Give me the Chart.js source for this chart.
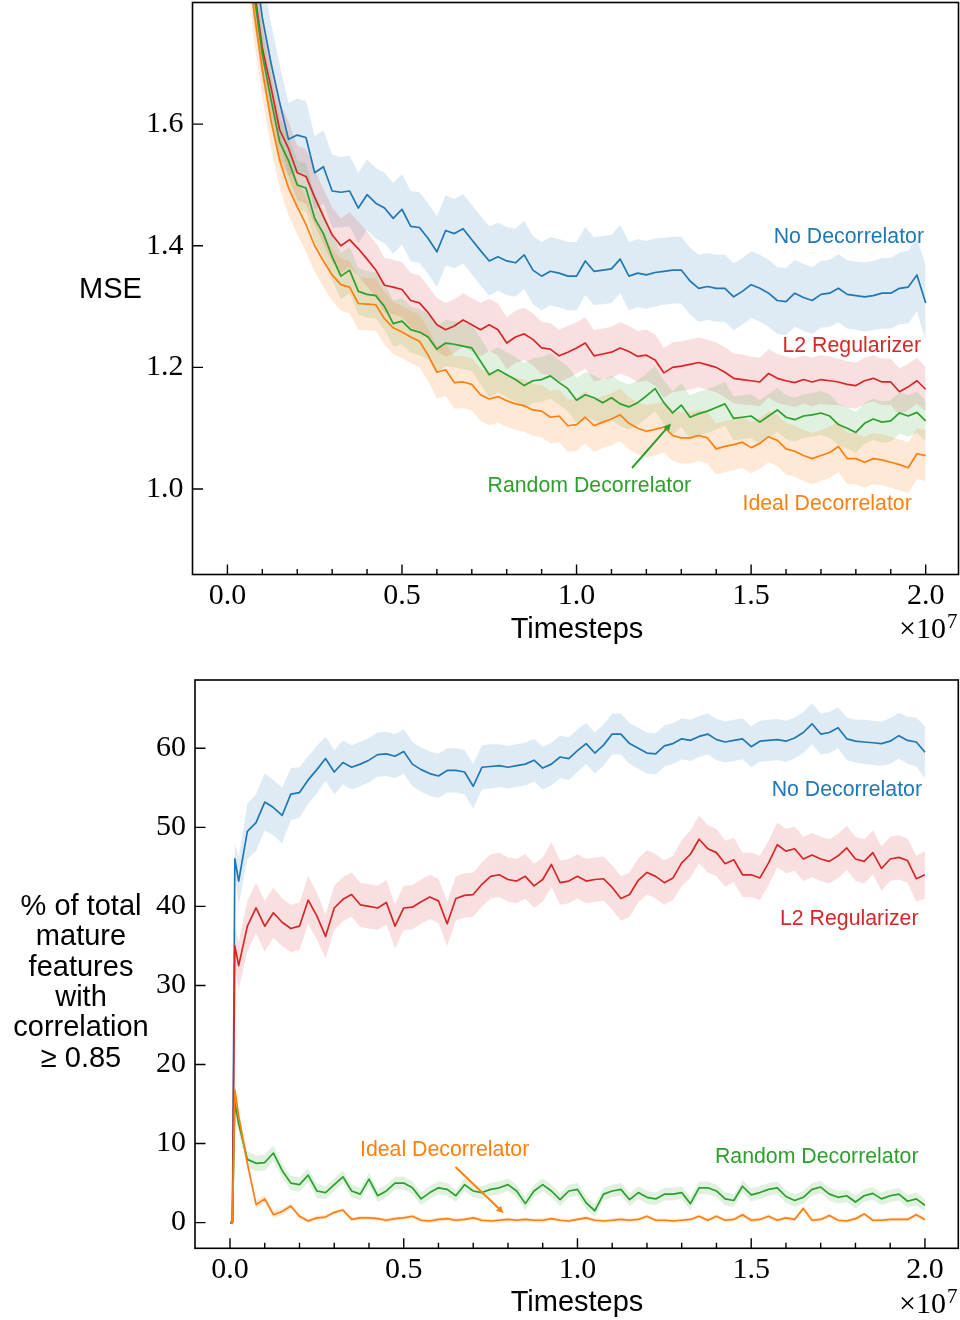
<!DOCTYPE html>
<html><head><meta charset="utf-8">
<script src="https://cdn.jsdelivr.net/npm/chart.js@4.4.1/dist/chart.umd.min.js"></script>
<style>
html,body{margin:0;padding:0;background:#fff;}
#wrap{position:relative;width:960px;height:1320px;overflow:hidden;}
canvas{position:absolute;left:0;}
#c1{top:0;width:960px;height:650px;}
#c2{top:650px;width:960px;height:670px;}
</style></head><body>
<div id="wrap"><canvas id="c1" width="960" height="650"></canvas><canvas id="c2" width="960" height="670"></canvas></div>
<script>
// ---------- DATA (timesteps in units of 1e7) ----------
const topX = [0,0.025,0.05,0.075,0.1,0.125,0.15,0.175,0.2,0.225,
0.25,0.275,0.3,0.325,0.35,0.375,0.4,0.425,0.45,0.475,
0.5,0.525,0.55,0.575,0.6,0.625,0.65,0.675,0.7,0.725,
0.75,0.775,0.8,0.825,0.85,0.875,0.9,0.925,0.95,0.975,
1.0,1.025,1.05,1.075,1.1,1.125,1.15,1.175,1.2,1.225,
1.25,1.275,1.3,1.325,1.35,1.375,1.4,1.425,1.45,1.475,
1.5,1.525,1.55,1.575,1.6,1.625,1.65,1.675,1.7,1.725,
1.75,1.775,1.8,1.825,1.85,1.875,1.9,1.925,1.95,1.975,2.0];

const mseNoDecorrelator = [2.70,2.35,2.08,1.88,1.775,1.70,1.635,1.575,1.582,1.578,
1.52,1.53,1.49,1.488,1.49,1.462,1.484,1.47,1.462,1.445,
1.46,1.432,1.43,1.412,1.39,1.425,1.42,1.428,1.41,1.392,
1.375,1.382,1.375,1.372,1.385,1.36,1.35,1.358,1.355,1.35,
1.35,1.375,1.358,1.36,1.362,1.378,1.35,1.355,1.352,1.356,
1.358,1.36,1.36,1.342,1.33,1.333,1.33,1.33,1.316,1.325,
1.336,1.33,1.322,1.31,1.308,1.322,1.315,1.31,1.32,1.322,
1.33,1.32,1.318,1.316,1.318,1.322,1.322,1.33,1.332,1.352,1.306];
const mseL2Regularizer = [2.55,2.25,2.00,1.83,1.725,1.66,1.59,1.56,1.52,1.514,
1.48,1.448,1.418,1.40,1.41,1.395,1.378,1.36,1.335,1.332,
1.328,1.31,1.306,1.29,1.27,1.262,1.268,1.278,1.27,1.262,
1.27,1.262,1.24,1.25,1.255,1.246,1.232,1.23,1.219,1.225,
1.232,1.24,1.219,1.222,1.225,1.232,1.226,1.218,1.22,1.212,
1.191,1.2,1.202,1.205,1.208,1.204,1.2,1.192,1.182,1.18,
1.178,1.176,1.19,1.182,1.178,1.175,1.18,1.176,1.18,1.178,
1.176,1.172,1.17,1.178,1.182,1.176,1.176,1.16,1.168,1.178,1.164];
const mseRandomDecorrelator = [2.50,2.20,1.97,1.82,1.715,1.64,1.57,1.54,1.50,1.495,
1.445,1.42,1.382,1.35,1.36,1.325,1.32,1.318,1.30,1.272,
1.276,1.262,1.258,1.25,1.23,1.24,1.238,1.235,1.232,1.21,
1.188,1.196,1.188,1.18,1.17,1.178,1.18,1.186,1.175,1.165,
1.146,1.155,1.15,1.142,1.15,1.14,1.135,1.142,1.153,1.165,
1.142,1.125,1.138,1.118,1.124,1.128,1.134,1.14,1.116,1.118,
1.12,1.11,1.12,1.13,1.118,1.114,1.12,1.122,1.125,1.12,
1.106,1.1,1.093,1.108,1.115,1.11,1.112,1.125,1.12,1.126,1.112];
const mseIdealDecorrelator = [2.45,2.15,1.94,1.79,1.69,1.605,1.54,1.495,1.464,1.435,
1.40,1.375,1.352,1.336,1.332,1.305,1.304,1.303,1.28,1.265,
1.258,1.25,1.243,1.22,1.192,1.196,1.175,1.176,1.172,1.155,
1.148,1.152,1.145,1.14,1.137,1.13,1.128,1.118,1.12,1.104,
1.106,1.118,1.104,1.11,1.115,1.122,1.108,1.1,1.095,1.098,
1.102,1.088,1.084,1.084,1.088,1.084,1.066,1.07,1.073,1.077,
1.068,1.075,1.086,1.08,1.066,1.062,1.055,1.05,1.055,1.06,
1.07,1.05,1.05,1.044,1.05,1.048,1.044,1.04,1.035,1.058,1.055];

// half-width of shaded bands (top panel)
const mseBandNoDecorrelator = [0.08,0.08,0.08,0.075,0.07,0.066,0.062,0.06,0.06,0.06,
0.06,0.06,0.06,0.058,0.058,0.058,0.058,0.058,0.058,0.058,
0.058,0.058,0.058,0.058,0.058,0.058,0.057,0.057,0.057,0.057,
0.057,0.056,0.056,0.056,0.056,0.056,0.056,0.056,0.056,0.056,
0.056,0.056,0.056,0.056,0.056,0.056,0.056,0.056,0.056,0.056,
0.055,0.055,0.055,0.055,0.055,0.055,0.055,0.055,0.055,0.055,
0.055,0.055,0.055,0.055,0.055,0.055,0.055,0.055,0.055,0.055,
0.056,0.056,0.056,0.057,0.057,0.058,0.058,0.059,0.06,0.06,0.062];
const mseBandL2Regularizer = [0.07,0.065,0.06,0.055,0.05,0.048,0.046,0.045,0.045,0.045,
0.045,0.045,0.045,0.045,0.045,0.045,0.045,0.045,0.045,0.045,
0.045,0.045,0.045,0.044,0.044,0.044,0.044,0.044,0.044,0.044,
0.043,0.043,0.043,0.043,0.043,0.043,0.043,0.043,0.043,0.043,
0.042,0.042,0.042,0.042,0.042,0.042,0.042,0.042,0.042,0.042,
0.041,0.041,0.041,0.041,0.041,0.041,0.041,0.041,0.041,0.041,
0.04,0.04,0.04,0.04,0.04,0.04,0.04,0.04,0.04,0.04,
0.038,0.038,0.038,0.038,0.038,0.038,0.038,0.038,0.038,0.038,0.036];
const mseBandRandomDecorrelator = [0.06,0.055,0.05,0.045,0.042,0.04,0.04,0.04,0.04,0.04,
0.038,0.038,0.038,0.038,0.038,0.038,0.038,0.038,0.038,0.038,
0.038,0.038,0.038,0.038,0.038,0.038,0.038,0.038,0.038,0.038,
0.037,0.037,0.037,0.037,0.037,0.037,0.037,0.037,0.037,0.037,
0.037,0.037,0.037,0.037,0.037,0.037,0.037,0.037,0.037,0.037,
0.036,0.036,0.036,0.036,0.036,0.036,0.036,0.036,0.036,0.036,
0.036,0.036,0.036,0.036,0.036,0.036,0.036,0.036,0.036,0.036,
0.034,0.034,0.034,0.034,0.034,0.034,0.034,0.034,0.034,0.034,0.033];
const mseBandIdealDecorrelator = [0.06,0.055,0.05,0.048,0.046,0.045,0.045,0.045,0.045,0.045,
0.043,0.043,0.043,0.043,0.043,0.043,0.043,0.043,0.043,0.043,
0.043,0.043,0.043,0.043,0.043,0.043,0.043,0.043,0.043,0.043,
0.043,0.043,0.043,0.043,0.043,0.043,0.043,0.043,0.043,0.043,
0.043,0.043,0.043,0.043,0.043,0.043,0.043,0.043,0.043,0.043,
0.042,0.042,0.042,0.042,0.042,0.042,0.042,0.042,0.042,0.042,
0.042,0.042,0.042,0.042,0.042,0.042,0.042,0.042,0.042,0.042,
0.042,0.042,0.042,0.042,0.042,0.042,0.042,0.042,0.042,0.042,0.042];

const bottomX = [0,0.007,0.014,
0.025,0.05,0.075,0.1,0.125,0.15,0.175,0.2,0.225,0.25,
0.275,0.3,0.325,0.35,0.375,0.4,0.425,0.45,0.475,0.5,
0.525,0.55,0.575,0.6,0.625,0.65,0.675,0.7,0.725,0.75,
0.775,0.8,0.825,0.85,0.875,0.9,0.925,0.95,0.975,1.0,
1.025,1.05,1.075,1.1,1.125,1.15,1.175,1.2,1.225,1.25,
1.275,1.3,1.325,1.35,1.375,1.4,1.425,1.45,1.475,1.5,
1.525,1.55,1.575,1.6,1.625,1.65,1.675,1.7,1.725,1.75,
1.775,1.8,1.825,1.85,1.875,1.9,1.925,1.95,1.975,2.0];

const pctNoDecorrelator = [0,0,46.0,
43.2,49.5,50.6,53.2,52.5,51.5,54.2,54.4,56.0,57.3,
58.7,57.0,58.2,57.6,58.0,58.5,59.2,59.3,59.0,59.6,
58.0,57.3,56.8,56.5,57.2,57.2,57.0,55.2,57.6,57.7,
57.8,57.6,57.8,58.0,58.5,57.5,58.0,58.9,58.7,59.7,
60.6,59.4,60.4,61.8,61.8,60.6,60.0,59.4,59.3,60.3,
60.6,61.2,61.0,61.5,61.8,61.1,60.8,61.0,61.2,60.2,
60.9,61.0,61.1,60.9,61.3,62.0,63.1,61.8,62.0,62.6,
61.2,60.9,60.8,60.7,60.6,60.9,61.6,61.0,60.8,59.5];
const pctL2Regularizer = [0,0,35.0,
32.5,37.5,39.8,37.5,39.2,38.0,37.2,37.5,40.8,38.8,
36.2,39.8,40.9,41.5,40.2,40.0,39.8,40.5,37.5,39.8,
39.9,40.6,41.2,40.7,37.8,41.0,41.4,41.5,42.8,43.8,
44.0,43.4,43.2,43.8,42.6,43.4,45.3,43.0,43.2,43.8,
43.2,43.4,43.5,42.4,41.0,41.5,43.3,44.3,43.8,43.0,
43.6,45.5,46.6,48.5,47.3,46.8,45.4,45.9,44.0,44.0,
43.6,45.5,47.8,47.0,47.3,46.0,46.5,46.0,45.7,46.4,
47.4,46.0,45.7,46.8,44.8,46.0,46.2,45.8,43.5,44.0];
const pctRandomDecorrelator = [0,0,15.2,
12.5,8.0,7.5,7.6,8.8,6.6,5.0,4.8,6.0,4.0,
3.8,4.8,5.8,4.0,3.6,5.5,3.4,4.0,5.0,5.0,
4.4,3.0,3.8,4.4,4.2,3.4,4.8,4.0,3.8,4.2,
4.4,4.8,4.0,2.4,4.0,4.8,4.0,2.9,4.0,4.2,
2.5,1.5,3.6,4.0,4.2,2.9,3.8,3.2,3.0,3.6,
3.6,3.8,2.4,4.4,4.4,4.0,3.0,2.8,4.6,3.5,
3.8,4.2,4.4,3.3,2.8,3.2,4.2,4.5,3.6,3.2,
3.4,2.6,3.4,3.7,3.0,3.4,3.6,2.7,3.0,2.2];
const pctIdealDecorrelator = [0,0,16.8,
13.5,7.5,2.3,3.0,1.0,1.4,2.1,0.8,0.2,0.6,
0.7,1.3,1.6,0.4,0.6,0.6,0.5,0.3,0.5,0.6,
0.8,0.3,0.2,0.4,0.5,0.3,0.4,0.6,0.3,0.2,
0.3,0.4,0.3,0.4,0.3,0.3,0.5,0.3,0.2,0.4,
0.6,0.3,0.2,0.3,0.4,0.3,0.4,0.8,0.3,0.3,
0.2,0.3,0.4,0.8,0.3,0.8,0.3,0.4,1.0,0.3,
0.4,0.8,0.3,0.6,0.4,1.8,0.3,0.4,0.9,0.3,
0.2,0.5,1.1,0.3,0.3,0.4,0.4,0.4,1.0,0.4];

const pctBandNoDecorrelator = [0,0,2.0,
3.0,3.5,3.6,3.6,3.5,3.5,3.3,3.2,3.0,3.0,
2.8,2.8,2.8,2.8,2.8,2.8,2.8,2.8,2.8,2.8,
2.8,2.8,2.8,2.8,2.8,2.8,2.8,2.8,2.8,2.8,
2.7,2.7,2.7,2.7,2.7,2.7,2.7,2.7,2.7,2.7,
2.6,2.6,2.6,2.6,2.6,2.6,2.6,2.6,2.6,2.6,
2.6,2.6,2.6,2.6,2.6,2.6,2.6,2.6,2.6,2.6,
2.6,2.6,2.6,2.6,2.6,2.6,2.6,2.6,2.6,2.6,
2.7,2.7,2.8,2.8,2.8,2.9,2.9,3.0,3.1,3.3];
const pctBandL2Regularizer = [0,0,2.5,
3.0,3.2,3.2,3.2,3.2,3.0,3.0,3.0,3.0,3.0,
2.8,2.8,2.8,2.8,2.8,2.8,2.8,2.8,2.8,2.8,
2.8,2.8,2.8,2.8,2.8,2.8,2.8,2.8,2.8,2.8,
2.8,2.8,2.8,2.8,2.8,2.8,2.8,2.8,2.8,2.8,
2.8,2.8,2.8,2.8,2.8,2.8,2.8,2.8,2.8,2.8,
2.8,2.9,3.0,3.0,3.0,3.0,2.9,2.8,2.8,2.8,
2.8,2.8,2.8,2.8,2.8,2.8,2.8,2.8,2.8,2.8,
2.8,2.8,2.8,2.8,2.8,2.8,2.8,2.8,2.9,3.0];
const pctBandRandomDecorrelator = [0,0,1.0,
1.2,1.0,1.0,1.0,1.0,0.9,0.9,0.9,0.9,0.9,
0.8,0.8,0.8,0.8,0.8,0.8,0.8,0.8,0.8,0.8,
0.8,0.8,0.8,0.8,0.8,0.8,0.8,0.8,0.8,0.8,
0.8,0.8,0.8,0.8,0.8,0.8,0.8,0.8,0.8,0.8,
0.8,0.8,0.8,0.8,0.8,0.8,0.8,0.8,0.8,0.8,
0.8,0.8,0.8,0.8,0.8,0.8,0.8,0.8,0.8,0.8,
0.8,0.8,0.8,0.8,0.8,0.8,0.8,0.8,0.8,0.8,
0.8,0.8,0.8,0.8,0.8,0.8,0.8,0.8,0.8,0.8];
const pctBandIdealDecorrelator = [0,0,0.8,
0.8,0.7,0.5,0.5,0.4,0.4,0.3,0.3,0.3,0.3,
0.25,0.25,0.25,0.25,0.25,0.25,0.25,0.25,0.25,0.25,
0.25,0.25,0.25,0.25,0.25,0.25,0.25,0.25,0.25,0.25,
0.25,0.25,0.25,0.25,0.25,0.25,0.25,0.25,0.25,0.25,
0.25,0.25,0.25,0.25,0.25,0.25,0.25,0.25,0.25,0.25,
0.25,0.25,0.25,0.25,0.25,0.25,0.25,0.25,0.25,0.25,
0.25,0.25,0.25,0.25,0.25,0.25,0.25,0.25,0.25,0.25,
0.25,0.25,0.25,0.25,0.25,0.25,0.25,0.25,0.25,0.25];

// tick values / labels
const xTickValues = [0,0.1,0.2,0.3,0.4,0.5,0.6,0.7,0.8,0.9,1.0,1.1,1.2,1.3,1.4,1.5,1.6,1.7,1.8,1.9,2.0];
const xMajorLabels = {0:'0.0',0.5:'0.5',1:'1.0',1.5:'1.5',2:'2.0'};
const mseTickValues = [1.0,1.2,1.4,1.6];
const pctTickValues = [0,10,20,30,40,50,60];

const seriesNames = ['No Decorrelator','L2 Regularizer','Random Decorrelator','Ideal Decorrelator'];
const seriesColors = {'No Decorrelator':'#1f77b4','L2 Regularizer':'#d62728','Random Decorrelator':'#2ca02c','Ideal Decorrelator':'#ff7f0e'};
const topYLabel = 'MSE';
const bottomYLabel = ['% of total','mature','features','with','correlation','\u2265 0.85'];
const xLabel = 'Timesteps';

// ---------- helpers ----------
function rgba(hex, a){
  const n = parseInt(hex.slice(1),16);
  return `rgba(${(n>>16)&255},${(n>>8)&255},${n&255},${a})`;
}
function pts(xs, ys){ return xs.map((x,i)=>({x:x, y:ys[i]})); }
function bandPts(xs, ys, hw, s){ return xs.map((x,i)=>({x:x, y:ys[i] + s*hw[i]})); }

function buildDatasets(xs, series){
  const ds = [];
  series.forEach(s => ds.push({
    data: pts(xs, s.y), borderColor: s.color, borderWidth: 1.7, pointRadius: 0,
    fill: false, tension: 0, order: 0, clip: 0, borderJoinStyle: 'round'
  }));
  series.forEach(s => {
    ds.push({data: bandPts(xs, s.y, s.hw, 1), borderWidth: 0, borderColor: 'rgba(0,0,0,0)', pointRadius: 0,
      fill: '+1', backgroundColor: rgba(s.color, s.alpha), order: 1, clip: 0});
    ds.push({data: bandPts(xs, s.y, s.hw, -1), borderWidth: 0, borderColor: 'rgba(0,0,0,0)', pointRadius: 0,
      fill: false, order: 1, clip: 0});
  });
  return ds;
}

function arrow(ctx, x1, y1, x2, y2, color){
  ctx.save();
  ctx.strokeStyle = color; ctx.fillStyle = color; ctx.lineWidth = 2;
  const ang = Math.atan2(y2-y1, x2-x1);
  const hl = 7, hw = 3.5;
  ctx.beginPath(); ctx.moveTo(x1,y1); ctx.lineTo(x2 - hl*0.6*Math.cos(ang), y2 - hl*0.6*Math.sin(ang)); ctx.stroke();
  ctx.beginPath();
  ctx.moveTo(x2, y2);
  ctx.lineTo(x2 - hl*Math.cos(ang) + hw*Math.sin(ang), y2 - hl*Math.sin(ang) - hw*Math.cos(ang));
  ctx.lineTo(x2 - hl*Math.cos(ang) - hw*Math.sin(ang), y2 - hl*Math.sin(ang) + hw*Math.cos(ang));
  ctx.closePath(); ctx.fill();
  ctx.restore();
}

function makeDecor(cfg){
  return {
    id: 'decor_' + cfg.name,
    afterDraw(chart){
      const ctx = chart.ctx, a = chart.chartArea, xs = chart.scales.x, ys = chart.scales.y;
      const off = cfg.offsetY;
      ctx.save();
      ctx.strokeStyle = '#000'; ctx.lineWidth = 1.4;
      ctx.beginPath();
      xTickValues.forEach(v => {
        const px = xs.getPixelForValue(v);
        const len = (v in xMajorLabels) ? 10 : 5.5;
        ctx.moveTo(px, a.bottom); ctx.lineTo(px, a.bottom - len);
      });
      cfg.yTicks.forEach(v => {
        const py = ys.getPixelForValue(v);
        ctx.moveTo(a.left, py); ctx.lineTo(a.left + 10.5, py);
      });
      ctx.stroke();
      ctx.lineWidth = 1.6;
      ctx.strokeRect(a.left, a.top, a.right - a.left, a.bottom - a.top);
      ctx.fillStyle = '#000';
      ctx.font = '29px "Liberation Sans", Arial, sans-serif';
      ctx.textAlign = 'center'; ctx.textBaseline = 'alphabetic';
      ctx.fillText(xLabel, 577, cfg.xLabelBase - off);
      ctx.font = '30px "Liberation Serif", "Times New Roman", serif';
      ctx.textAlign = 'right';
      ctx.fillText('\u00d710', 946, cfg.sciBase - off);
      ctx.font = '21px "Liberation Serif", "Times New Roman", serif';
      ctx.textAlign = 'left';
      ctx.fillText('7', 947, cfg.sciBase - 10 - off);
      ctx.font = '29px "Liberation Sans", Arial, sans-serif';
      ctx.textAlign = 'center';
      cfg.yLabelLines.forEach((t, i) => ctx.fillText(t, cfg.yLabelX, cfg.yLabelBase + i*cfg.yLabelStep - off));
      ctx.font = '21.3px "Liberation Sans", Arial, sans-serif';
      cfg.notes.forEach(n => {
        ctx.fillStyle = seriesColors[n.text];
        ctx.textAlign = n.align;
        ctx.fillText(n.text, n.x, n.y - off);
      });
      cfg.arrows.forEach(ar => arrow(ctx, ar.x1, ar.y1 - off, ar.x2, ar.y2 - off, seriesColors[ar.series]));
      ctx.restore();
    }
  };
}

function makeChart(canvasId, xs, series, yCfg, area, decorCfg){
  const c = document.getElementById(canvasId);
  return new Chart(c, {
    type: 'line',
    data: { datasets: buildDatasets(xs, series) },
    options: {
      responsive: false, animation: false, devicePixelRatio: 1, events: [],
      layout: { padding: { top: area.top, right: area.right, left: 0, bottom: 0 } },
      plugins: { legend: {display:false}, tooltip: {enabled:false}, title: {display:false} },
      scales: {
        x: {
          type: 'linear', min: area.xmin, max: area.xmax,
          afterBuildTicks: s => { s.ticks = xTickValues.map(v => ({value: v})); },
          afterFit: s => { s.height = area.xHeight; s.paddingLeft = 0; s.paddingRight = 0; },
          ticks: { autoSkip: false, maxRotation: 0, padding: 4, color: '#000',
            font: { family: '"Liberation Serif", "Times New Roman", serif', size: 30 },
            callback: v => (v in xMajorLabels) ? xMajorLabels[v] : '' },
          grid: { display: false, drawTicks: false }, border: { display: false }
        },
        y: {
          type: 'linear', min: yCfg.min, max: yCfg.max,
          afterBuildTicks: s => { s.ticks = yCfg.ticks.map(v => ({value: v})); },
          afterFit: s => { s.width = area.left; s.paddingTop = 0; s.paddingBottom = 0; },
          ticks: { autoSkip: false, padding: 9, color: '#000',
            font: { family: '"Liberation Serif", "Times New Roman", serif', size: 30 },
            callback: yCfg.fmt },
          grid: { display: false, drawTicks: false }, border: { display: false }
        }
      }
    },
    plugins: [makeDecor(decorCfg)]
  });
}

// ---------- TOP PANEL ----------
makeChart('c1', topX, [
  {y: mseIdealDecorrelator, hw: mseBandIdealDecorrelator, color: seriesColors['Ideal Decorrelator'], alpha: 0.17},
  {y: mseRandomDecorrelator, hw: mseBandRandomDecorrelator, color: seriesColors['Random Decorrelator'], alpha: 0.15},
  {y: mseL2Regularizer, hw: mseBandL2Regularizer, color: seriesColors['L2 Regularizer'], alpha: 0.15},
  {y: mseNoDecorrelator, hw: mseBandNoDecorrelator, color: seriesColors['No Decorrelator'], alpha: 0.15}
], {min: 0.8594, max: 1.8, ticks: mseTickValues, fmt: v => v.toFixed(1)},
{top: 2.5, right: 1.5, left: 192.5, xHeight: 75.5, xmin: -0.1, xmax: 2.094},
{name: 'top', offsetY: 0, yTicks: mseTickValues, xLabelBase: 638, sciBase: 638,
 yLabelLines: [topYLabel], yLabelX: 110.5, yLabelBase: 298, yLabelStep: 0,
 notes: [
  {text: 'No Decorrelator', x: 924, y: 243, align: 'right'},
  {text: 'L2 Regularizer', x: 921, y: 351.5, align: 'right'},
  {text: 'Random Decorrelator', x: 487.5, y: 491.5, align: 'left'},
  {text: 'Ideal Decorrelator', x: 742.5, y: 510, align: 'left'}
 ],
 arrows: [{series: 'Random Decorrelator', x1: 632, y1: 468, x2: 671, y2: 423.5}]
});

// ---------- BOTTOM PANEL ----------
makeChart('c2', bottomX, [
  {y: pctIdealDecorrelator, hw: pctBandIdealDecorrelator, color: seriesColors['Ideal Decorrelator'], alpha: 0.17},
  {y: pctRandomDecorrelator, hw: pctBandRandomDecorrelator, color: seriesColors['Random Decorrelator'], alpha: 0.15},
  {y: pctL2Regularizer, hw: pctBandL2Regularizer, color: seriesColors['L2 Regularizer'], alpha: 0.15},
  {y: pctNoDecorrelator, hw: pctBandNoDecorrelator, color: seriesColors['No Decorrelator'], alpha: 0.15}
], {min: -3.25, max: 68.64, ticks: pctTickValues, fmt: v => String(v)},
{top: 30, right: 1.7, left: 195, xHeight: 71.7, xmin: -0.1007, xmax: 2.096},
{name: 'bottom', offsetY: 650, yTicks: pctTickValues, xLabelBase: 1311, sciBase: 1313,
 yLabelLines: bottomYLabel, yLabelX: 81, yLabelBase: 915, yLabelStep: 30.3,
 notes: [
  {text: 'No Decorrelator', x: 922, y: 796, align: 'right'},
  {text: 'L2 Regularizer', x: 918.5, y: 925, align: 'right'},
  {text: 'Ideal Decorrelator', x: 360, y: 1156, align: 'left'},
  {text: 'Random Decorrelator', x: 918.5, y: 1163, align: 'right'}
 ],
 arrows: [{series: 'Ideal Decorrelator', x1: 455.5, y1: 1167, x2: 503.5, y2: 1213}]
});
</script>
</body></html>
